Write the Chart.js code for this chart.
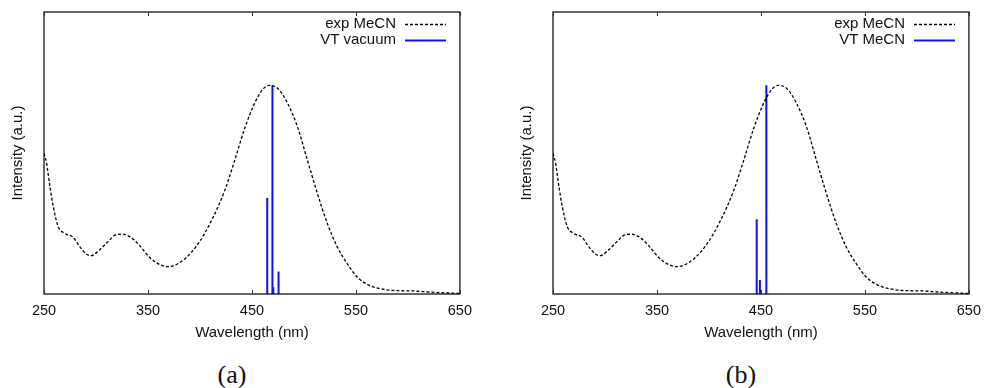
<!DOCTYPE html>
<html>
<head>
<meta charset="utf-8">
<script src="https://cdn.jsdelivr.net/npm/chart.js@4/dist/chart.umd.min.js"></script>
<style>
  html, body { margin: 0; padding: 0; background: #ffffff; }
  body { width: 988px; height: 388px; position: relative; overflow: hidden; }
  .panel { position: absolute; top: 0; width: 480px; height: 345px; }
  .caption { position: absolute; top: 360px; width: 60px; text-align: center;
             font-family: "Liberation Serif", "DejaVu Serif", serif; font-size: 26px; color: #111; line-height: 30px; }
</style>
</head>
<body>
<div class="panel" style="left:0px"><canvas id="cA" width="480" height="345"></canvas></div>
<div class="panel" style="left:509px"><canvas id="cB" width="480" height="345"></canvas></div>
<div class="caption" style="left:202px">(a)</div>
<div class="caption" style="left:711px">(b)</div>
<script>
// ---- data ----
const expWavelength = [250, 252.5, 255.7, 258.9, 263.7, 270, 278, 284.3, 290.6, 295.4, 303.3, 312.9, 317.6, 325.6, 333.5, 341.4, 351, 360.5, 368.4, 376.3, 385.9, 398.6, 411.3, 424, 433.5, 443, 452.5, 460.5, 466.8, 474.8, 484.3, 493.8, 503.3, 512.9, 522.4, 531.9, 541.4, 551, 560.5, 573.2, 589, 605, 620.8, 636.7, 650];
const expIntensity  = [0.499, 0.463, 0.381, 0.310, 0.239, 0.215, 0.201, 0.168, 0.142, 0.136, 0.156, 0.191, 0.207, 0.212, 0.201, 0.174, 0.132, 0.106, 0.097, 0.103, 0.126, 0.180, 0.262, 0.369, 0.475, 0.587, 0.676, 0.726, 0.740, 0.729, 0.676, 0.593, 0.475, 0.357, 0.251, 0.168, 0.109, 0.061, 0.035, 0.019, 0.012, 0.011, 0.007, 0.004, 0.002];

const vacWavelength = [464.7, 469.7, 470.5, 475.6];
const vacIntensity  = [0.340, 0.740, 0.024, 0.080];

const mecnWavelength = [445.9, 449.0, 450.0, 455.2];
const mecnIntensity  = [0.265, 0.050, 0.014, 0.740];

const xTicks = [250, 350, 450, 550, 650];
const labelsA = ["exp MeCN", "VT vacuum"];
const labelsB = ["exp MeCN", "VT MeCN"];
const xTitle = "Wavelength (nm)";
const yTitle = "Intensity (a.u.)";

// ---- helpers ----
function curvePoints(xs, ys) { return xs.map((x, i) => ({x: x, y: ys[i]})); }
function stickPoints(xs, ys) {
  const pts = [];
  xs.forEach((x, i) => { pts.push({x: x, y: 0}); pts.push({x: x, y: ys[i]}); pts.push({x: x, y: null}); });
  return pts;
}

const FONT = "'Liberation Sans', Arial, Helvetica, sans-serif";

const framePlugin = {
  id: 'frame',
  afterDatasetsDraw(chart) {
    const {ctx, chartArea: a, scales} = chart;
    ctx.save();
    ctx.strokeStyle = '#000';
    ctx.lineWidth = 1.2;
    ctx.strokeRect(a.left, a.top, a.right - a.left, a.bottom - a.top);
    ctx.lineWidth = 1;
    ctx.strokeStyle = '#333';
    scales.x.ticks.forEach(t => {
      const px = Math.round(scales.x.getPixelForValue(t.value)) + 0.5;
      ctx.beginPath();
      ctx.moveTo(px, a.bottom); ctx.lineTo(px, a.bottom - 4);
      ctx.moveTo(px, a.top); ctx.lineTo(px, a.top + 4);
      ctx.stroke();
    });
    ctx.restore();
  }
};

const keyPlugin = {
  id: 'key',
  afterDraw(chart) {
    const {ctx} = chart;
    ctx.save();
    ctx.font = '15px ' + FONT;
    ctx.textAlign = 'right';
    ctx.textBaseline = 'middle';
    chart.data.datasets.forEach((ds, i) => {
      const y = 24 + i * 16;
      ctx.fillStyle = '#111';
      ctx.fillText(ds.label, 396, y);
      ctx.strokeStyle = ds.borderColor;
      ctx.lineWidth = ds.borderWidth;
      ctx.setLineDash(ds.borderDash || []);
      ctx.beginPath();
      ctx.moveTo(405, y + 0.5); ctx.lineTo(446, y + 0.5);
      ctx.stroke();
    });
    ctx.restore();
  }
};

function makeChart(id, labels, stickX, stickY) {
  return new Chart(document.getElementById(id), {
    type: 'line',
    data: {
      datasets: [
        { label: labels[0], data: curvePoints(expWavelength, expIntensity),
          borderColor: '#000000', borderWidth: 1.3, borderDash: [3, 2],
          pointRadius: 0, cubicInterpolationMode: 'monotone', fill: false },
        { label: labels[1], data: stickPoints(stickX, stickY),
          borderColor: '#1010f0', borderWidth: 2, pointRadius: 0, tension: 0,
          spanGaps: false, fill: false }
      ]
    },
    options: {
      responsive: false,
      animation: false,
      events: [],
      layout: { padding: { top: 12, right: 16, left: 0, bottom: 0 } },
      plugins: { legend: { display: false }, tooltip: { enabled: false } },
      scales: {
        x: {
          type: 'linear', min: 250, max: 650,
          afterBuildTicks: s => { s.ticks = xTicks.map(v => ({value: v})); },
          afterFit: s => { s.height = 51; },
          grid: { display: false, drawTicks: false },
          border: { display: false },
          ticks: { padding: 8, color: '#111', font: { family: FONT, size: 14.5 }, maxRotation: 0 },
          title: { display: true, text: xTitle, color: '#111', font: { family: FONT, size: 15 }, padding: { top: 0, bottom: 3 } }
        },
        y: {
          type: 'linear', min: 0, max: 1,
          afterFit: s => { s.width = 44; },
          grid: { display: false, drawTicks: false },
          border: { display: false },
          ticks: { display: false },
          title: { display: true, text: yTitle, color: '#111', font: { family: FONT, size: 15 }, padding: { top: 9, bottom: 0 } }
        }
      }
    },
    plugins: [framePlugin, keyPlugin]
  });
}

makeChart('cA', labelsA, vacWavelength, vacIntensity);
makeChart('cB', labelsB, mecnWavelength, mecnIntensity);
</script>
</body>
</html>
